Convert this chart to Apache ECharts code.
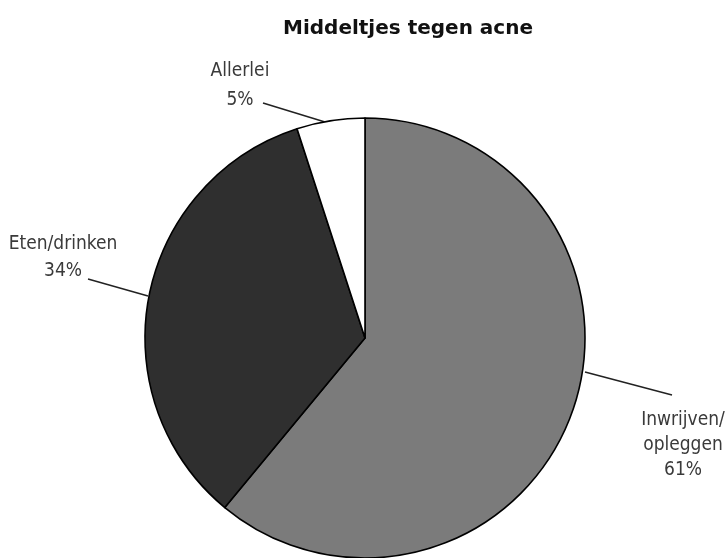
<!DOCTYPE html>
<html>
<head>
<meta charset="utf-8">
<script src="https://cdn.jsdelivr.net/npm/echarts@6/dist/echarts.min.js"></script>
<style>
html,body{margin:0;padding:0;background:#fff;}
#chart{width:727px;height:558px;}
</style>
</head>
<body>
<div id="chart"></div>
<script>
const categories = ['Inwrijven/\nopleggen', 'Eten/drinken', 'Allerlei'];
const values = [61, 34, 5];
const sliceColors = ['#7b7b7b', '#2f2f2f', '#ffffff'];

// label placement (centers) and leader-line geometry (pixels)
const labelPos = [
  {x: 683, y: 445, line: [[585, 372], [672, 395]]},
  {x: 63, y: 258, line: [[148, 296], [88, 279]]},
  {x: 240, y: 86, line: [[325, 122], [263, 103]]}
];
const labelLH = [25, 27, 29];

const chart = echarts.init(document.getElementById('chart'), null, {renderer: 'canvas'});
chart.setOption({
  backgroundColor: '#ffffff',
  animation: false,
  title: {
    text: 'Middeltjes tegen acne',
    left: 283,
    top: 19,
    padding: 0,
    textStyle: {
      fontFamily: 'DejaVu Sans',
      fontWeight: 'bold',
      fontSize: 20,
      color: '#111'
    }
  },
  series: [{
    type: 'pie',
    center: [365, 338],
    radius: 220,
    startAngle: 90,
    clockwise: true,
    silent: true,
    avoidLabelOverlap: false,
    data: categories.map((c, i) => ({
      name: c,
      value: values[i],
      itemStyle: {color: sliceColors[i]},
      label: {lineHeight: labelLH[i]}
    })),
    itemStyle: {borderColor: '#000', borderWidth: 1.6},
    label: {
      show: true,
      position: 'outside',
      formatter: '{b}\n{c}%',
      fontFamily: '"DejaVu Sans Condensed", "Liberation Sans", sans-serif',
      fontSize: 19,
      color: '#3a3a3a',
      align: 'center',
      overflow: 'none',
      width: 200
    },
    labelLine: {show: true, lineStyle: {color: '#222', width: 1.5}},
    labelLayout: function (p) {
      const L = labelPos[p.dataIndex];
      return {
        x: L.x, y: L.y, align: 'center', verticalAlign: 'middle',
        labelLinePoints: [L.line[0], L.line[1], L.line[1]]
      };
    }
  }]
});
</script>
</body>
</html>
